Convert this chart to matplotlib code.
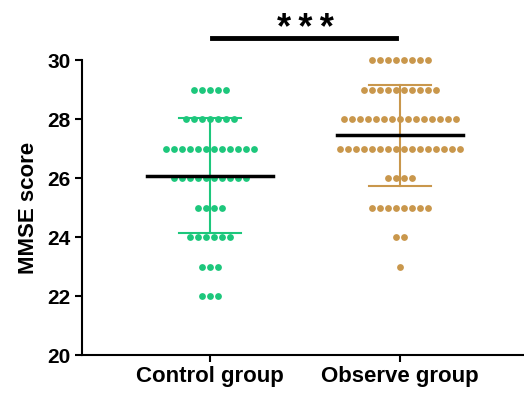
import numpy as np
import matplotlib.pyplot as plt

plt.rcParams['font.family'] = ['Liberation Sans', 'DejaVu Sans']
plt.rcParams['font.weight'] = 'bold'

groups = ['Control group', 'Observe group']
colors = ['#1DC77C', '#C9974C']

# score levels and number of subjects at each level
control_scores = [29, 28, 27, 26, 25, 24, 23, 22]
control_counts = [5, 7, 12, 10, 4, 6, 3, 3]
observe_scores = [30, 29, 28, 27, 26, 25, 24, 23]
observe_counts = [8, 10, 15, 16, 4, 8, 2, 1]

yticks = [20, 22, 24, 26, 28, 30]

fig = plt.figure(figsize=(5.24, 3.98), dpi=100)
ax = fig.add_axes([0.1565, 0.108, 0.8435, 0.741])

step = 0.042
for i, (sc, cn) in enumerate([(control_scores, control_counts),
                              (observe_scores, observe_counts)]):
    vals = np.repeat(sc, cn)
    for s, n in zip(sc, cn):
        xs = i + (np.arange(n) - (n - 1) / 2) * step
        ax.scatter(xs, np.full(n, s), s=24, color=colors[i], lw=0, zorder=3,
                   clip_on=False)
    m = vals.mean()
    sd = vals.std(ddof=1)
    ax.plot([i, i], [m - sd, m + sd], color=colors[i], lw=1.5, zorder=2)
    ax.plot([i - 0.165, i + 0.165], [m - sd, m - sd], color=colors[i], lw=1.5, zorder=2)
    ax.plot([i - 0.165, i + 0.165], [m + sd, m + sd], color=colors[i], lw=1.5, zorder=2)
    ax.plot([i - 0.33, i + 0.33], [m, m], color='k', lw=2.5, zorder=4)

# significance bar
ax.plot([0.01, 0.98], [30.75, 30.75], color='k', lw=3.5, clip_on=False)
ax.text(0.5, 31.05, '*\u2009*\u2009*', ha='center', va='center', fontsize=26,
        fontweight='bold')

ax.set_xlim(-0.674, 1.653)
ax.set_ylim(20, 30)
ax.set_yticks(yticks)
ax.set_xticks([0, 1])
ax.set_xticklabels(groups, fontsize=16, fontweight='bold')
ax.set_ylabel('MMSE score', fontsize=16, fontweight='bold', labelpad=6)
for lab in ax.get_yticklabels():
    lab.set_fontsize(15)
    lab.set_fontweight('bold')

ax.spines['top'].set_visible(False)
ax.spines['right'].set_visible(False)
ax.spines['left'].set_linewidth(1.5)
ax.spines['bottom'].set_linewidth(1.5)
ax.tick_params(width=1.5, length=5, pad=3)

fig.savefig('out.png', dpi=100)
